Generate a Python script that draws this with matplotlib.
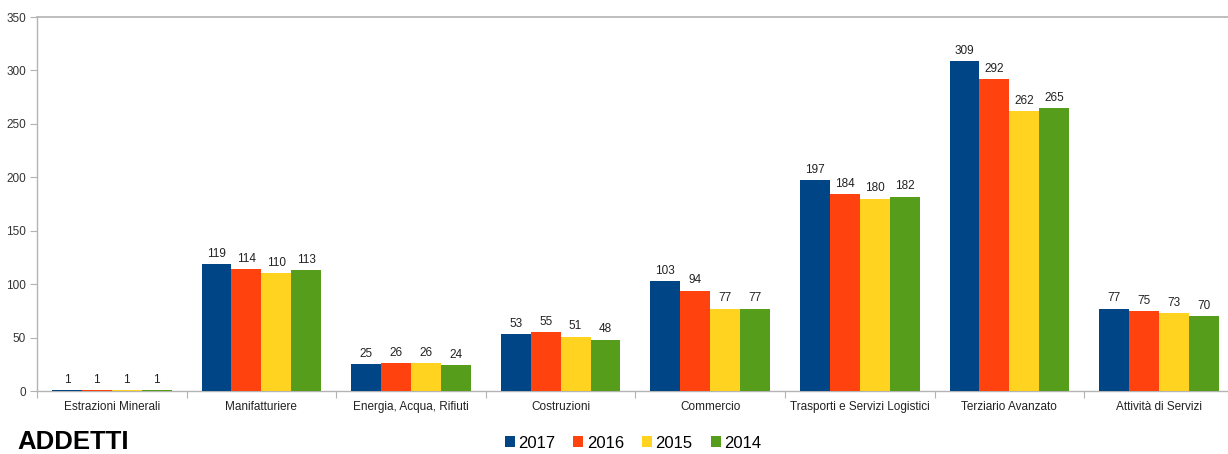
import matplotlib
matplotlib.use("Agg")
import matplotlib.pyplot as plt
import numpy as np

categories = ["Estrazioni Minerali", "Manifatturiere", "Energia, Acqua, Rifiuti",
              "Costruzioni", "Commercio", "Trasporti e Servizi Logistici",
              "Terziario Avanzato", "Attività di Servizi"]
series_names = ["2017", "2016", "2015", "2014"]
v2017 = [1, 119, 25, 53, 103, 197, 309, 77]
v2016 = [1, 114, 26, 55, 94, 184, 292, 75]
v2015 = [1, 110, 26, 51, 77, 180, 262, 73]
v2014 = [1, 113, 24, 48, 77, 182, 265, 70]
colors = ["#004586", "#ff420e", "#ffd320", "#579d1c"]
yticks = [0, 50, 100, 150, 200, 250, 300, 350]

plt.rcParams['font.family'] = ['Liberation Sans', 'DejaVu Sans']

W, H = 1228, 454
fig = plt.figure(figsize=(W / 100, H / 100), dpi=100)
left_px, right_px, top_px, bot_px = 37, 37 + 8 * 149.6, 17, 391
ax = fig.add_axes([left_px / W, 1 - bot_px / H, (right_px - left_px) / W, (bot_px - top_px) / H])

x = np.arange(len(categories))
bw = 0.2
allv = [v2017, v2016, v2015, v2014]
for i, (vals, c, name) in enumerate(zip(allv, colors, series_names)):
    pos = x - 0.4 + bw * (i + 0.5)
    ax.bar(pos, vals, width=bw, color=c, label=name, zorder=3)
    for p, v in zip(pos, vals):
        ax.text(p, v + 4, str(v), ha='center', va='bottom', fontsize=8.5, color='#222222')

ax.set_xlim(-0.5, len(categories) - 0.5)
ax.set_ylim(0, 350)
ax.set_yticks(yticks)
ax.set_yticklabels([str(t) for t in yticks], fontsize=8.5, color='#333333')
ax.yaxis.grid(False)
ax.axhline(350, color='#b3b3b3', lw=1.2, zorder=1, clip_on=False)

ax.set_xticks(np.arange(len(categories) + 1) - 0.5)
ax.set_xticklabels([])
ax.set_xticks(x, minor=True)
ax.set_xticklabels(categories, minor=True, fontsize=8.5, color='#222222')
ax.tick_params(axis='x', which='minor', length=0, pad=7)
ax.tick_params(axis='x', which='major', length=5, color='#b3b3b3', direction='out')
ax.tick_params(axis='y', length=5, color='#b3b3b3', direction='out', pad=3)

for s in ['top', 'right']:
    ax.spines[s].set_visible(False)
for s in ['left', 'bottom']:
    ax.spines[s].set_color('#b3b3b3')
    ax.spines[s].set_linewidth(1.0)

fig.text(17 / W, 1 - 449 / H, "ADDETTI", fontsize=18.5, fontweight='bold', ha='left', va='baseline')

fig.legend(loc='center', bbox_to_anchor=(633 / W, 1 - 443 / H), ncol=4, frameon=False,
           fontsize=12, handlelength=0.6, handleheight=0.6, handletextpad=0.2,
           columnspacing=1.1)

fig.savefig("out.png", dpi=100)
